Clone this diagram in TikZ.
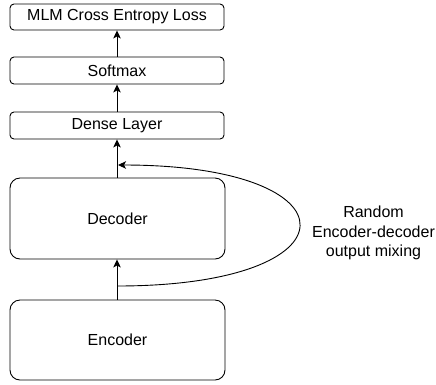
\documentclass[tikz,border=0pt]{standalone}
\usepackage{fontspec}
\setmainfont{Liberation Sans}
\usetikzlibrary{arrows.meta}
\tikzset{%
  layer/.style={%
    draw, line width=0.9pt, rounded corners=4pt, inner sep=0pt,
    minimum width=214pt, font=\fontsize{16}{18}\selectfont
  },
  block/.style={%
    layer, rounded corners=10pt, minimum width=215pt, minimum height=81pt
  },
  flow/.style={%
    line width=0.9pt, -{Stealth[length=8pt,width=7.5pt,inset=2pt]}
  }
}

\begin{document}
\begin{tikzpicture}[x=1pt,y=-1pt]
    \useasboundingbox (0,0) rectangle (436,384);

    \node [layer, minimum height=26pt] (loss)    at (117,17)    {MLM Cross Entropy Loss};
    \node [layer, minimum height=27pt] (softmax) at (117,70.5)  {Softmax};
    \node [layer, minimum height=27pt] (dense)   at (117,125.5) {Dense Layer};
    \node [block] (decoder) at (117.5,218.5) {Decoder};
    \node [block, minimum height=80pt] (encoder) at (117.5,340) {Encoder};

    \coordinate (split) at (117,286);
    \coordinate (mixin) at (118,165);

    \draw [flow] (encoder.north -| split) -- (decoder.south -| split);
    \draw [flow] (decoder.north -| split) -- (dense.south -| split);
    \draw [flow] (dense.north -| split) -- (softmax.south -| split);
    \draw [flow] (softmax.north -| split) -- (loss.south -| split);
    \draw [flow] (split) .. controls (360,286) and (360,165) .. (mixin);

    \node [align=center, font=\fontsize{16}{19.5}\selectfont] (mixing) at (373.5,233)
      {Random\\Encoder-decoder\\output mixing};
\end{tikzpicture}
\end{document}
